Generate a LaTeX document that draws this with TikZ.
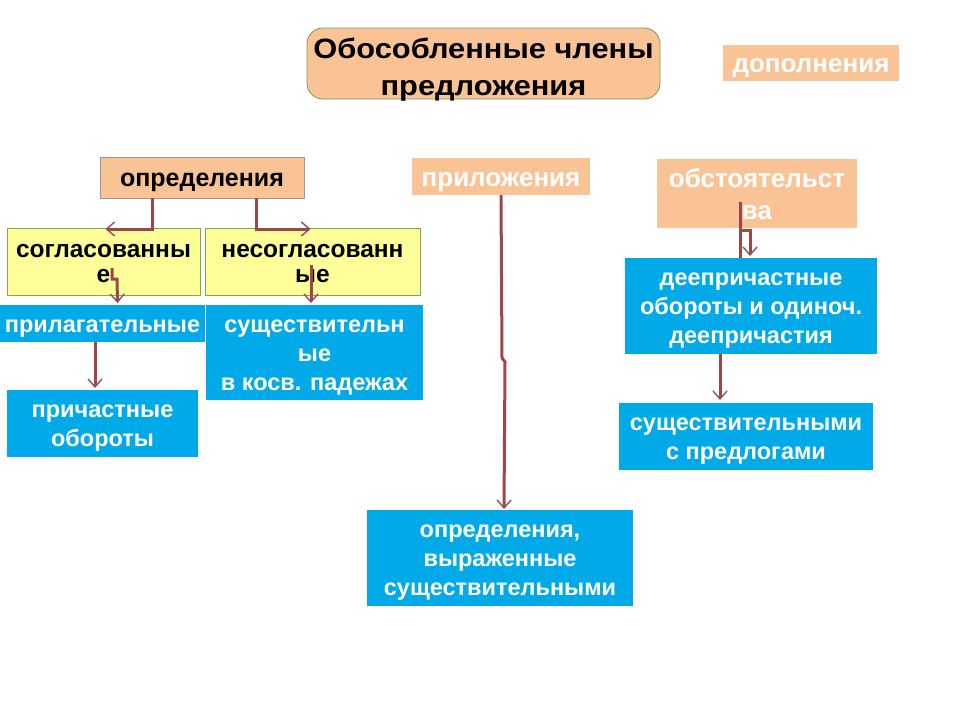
\documentclass[tikz,border=0pt]{standalone}
\usepackage{fontspec}
\setmainfont{Liberation Sans}
\newfontfamily\titlefont[FakeStretch=1.1]{Liberation Sans}
\usetikzlibrary{arrows.meta,calc}
\definecolor{peach}{RGB}{250,195,150}
\definecolor{lyellow}{RGB}{255,255,153}
\definecolor{ygreen}{RGB}{120,170,80}
\definecolor{sky}{RGB}{0,170,232}
\definecolor{conncol}{RGB}{160,70,70}
\definecolor{tipcol}{RGB}{140,80,100}
\tikzset{
  box/.style={anchor=north west, inner sep=0pt, outer sep=0pt, align=center, text depth=0pt},
  peachw/.style={box, fill=peach, text=white, font=\fontsize{26}{32}\selectfont\bfseries},
  peachb/.style={box, fill=peach, draw=gray!80, line width=0.8pt, text=black, font=\fontsize{25}{30}\selectfont\bfseries},
  ybox/.style={box, fill=lyellow, draw=ygreen, line width=0.8pt, text=black, font=\fontsize{24.5}{25}\selectfont\bfseries},
  bbox/.style={box, fill=sky, text=white, font=\fontsize{23.5}{29}\selectfont\bfseries},
  conn/.style={draw=conncol, line width=3pt, -{Straight Barb[length=8pt,width=14pt,line width=1.4pt,color=tipcol]}},
  connplain/.style={draw=conncol, line width=3pt},
}
\begin{document}
\begin{tikzpicture}[x=1pt,y=-1pt]
\useasboundingbox (0,0) rectangle (960,720);
\fill[white] (0,0) rectangle (960,720);
% title
\node[box, fill=peach, draw=ygreen!60!gray, line width=0.8pt, rounded corners=16pt,
  minimum width=353, minimum height=71, text height=63pt, font=\titlefont\fontsize{28}{37}\selectfont\bfseries] (title) at (307,28)
  {Обособленные члены\\предложения};
\node[peachw, minimum width=176, minimum height=36, text height=19pt] (dop) at (723,45) {дополнения};
% level 2
\node[peachb, minimum width=204, minimum height=41, text height=18pt] (opr) at (100,157) {определения};
\node[peachw, minimum width=178, minimum height=37, text height=19pt] (app) at (412,158) {приложения};
\node[peachw, minimum width=200, minimum height=69, text height=51pt] (obst) at (657,159) {обстоятельст\\ва};
% level 3
\node[ybox, minimum width=193, minimum height=67, text height=42pt] (sogl) at (7,228) {согласованны\\е};
\node[ybox, minimum width=215, minimum height=67, text height=42pt] (nesogl) at (205,228) {несогласованн\\ые};
\node[bbox, minimum width=205, minimum height=37, text height=17pt] (pril) at (0,305) {прилагательные};
\node[bbox, minimum width=217, minimum height=95, text height=75pt] (sush) at (206,305) {существительн\\ые\\ в косв. падежах};
\node[bbox, minimum width=191, minimum height=67, text height=46pt] (prich) at (7,390) {причастные\\обороты};
\node[bbox, minimum width=266, minimum height=96, text height=75pt] (opr2) at (367,510) {определения,\\выраженные\\существительными};
\node[bbox, minimum width=252, minimum height=96, text height=75pt] (deepr) at (625,258) {деепричастные\\обороты и одиноч.\\деепричастия};
\node[bbox, minimum width=254, minimum height=67, text height=46pt] (sushpr) at (619,403) {существительными\\с предлогами};
% connectors
\draw[conn] ([shift={(-50,0)}]opr.south) |- ([shift={(2,1)}]sogl.north);
\draw[conn] ([shift={(54,0)}]opr.south) |- ([shift={(-2,1)}]nesogl.north);
\draw[conn] ([shift={(8.5,-27)}]sogl.south) -- ++(0,11) -- ++(5,0) -- ([shift={(15,-2)}]pril.north);
\draw[conn] ([shift={(-1.5,3)}]nesogl.center) -- ([shift={(-3.5,-2)}]sush.north);
\draw[conn] ([shift={(-7.5,0)}]pril.south) -- ([shift={(-7.5,-2)}]prich.north);
\draw[conn] (app.south) -- ([shift={(1,163)}]app.south) -- ([shift={(4,167)}]app.south) -- ([shift={(4,-1)}]opr2.north);
\draw[connplain] ([shift={(-17,-26)}]obst.south) -- ([shift={(-11,0)}]deepr.north);
\draw[conn] ([shift={(-17,2)}]obst.south) -| ([shift={(-1,-2)}]deepr.north);
\draw[conn] ([shift={(-31,0)}]deepr.south) -- ([shift={(-26,-3)}]sushpr.north);
\end{tikzpicture}
\end{document}
